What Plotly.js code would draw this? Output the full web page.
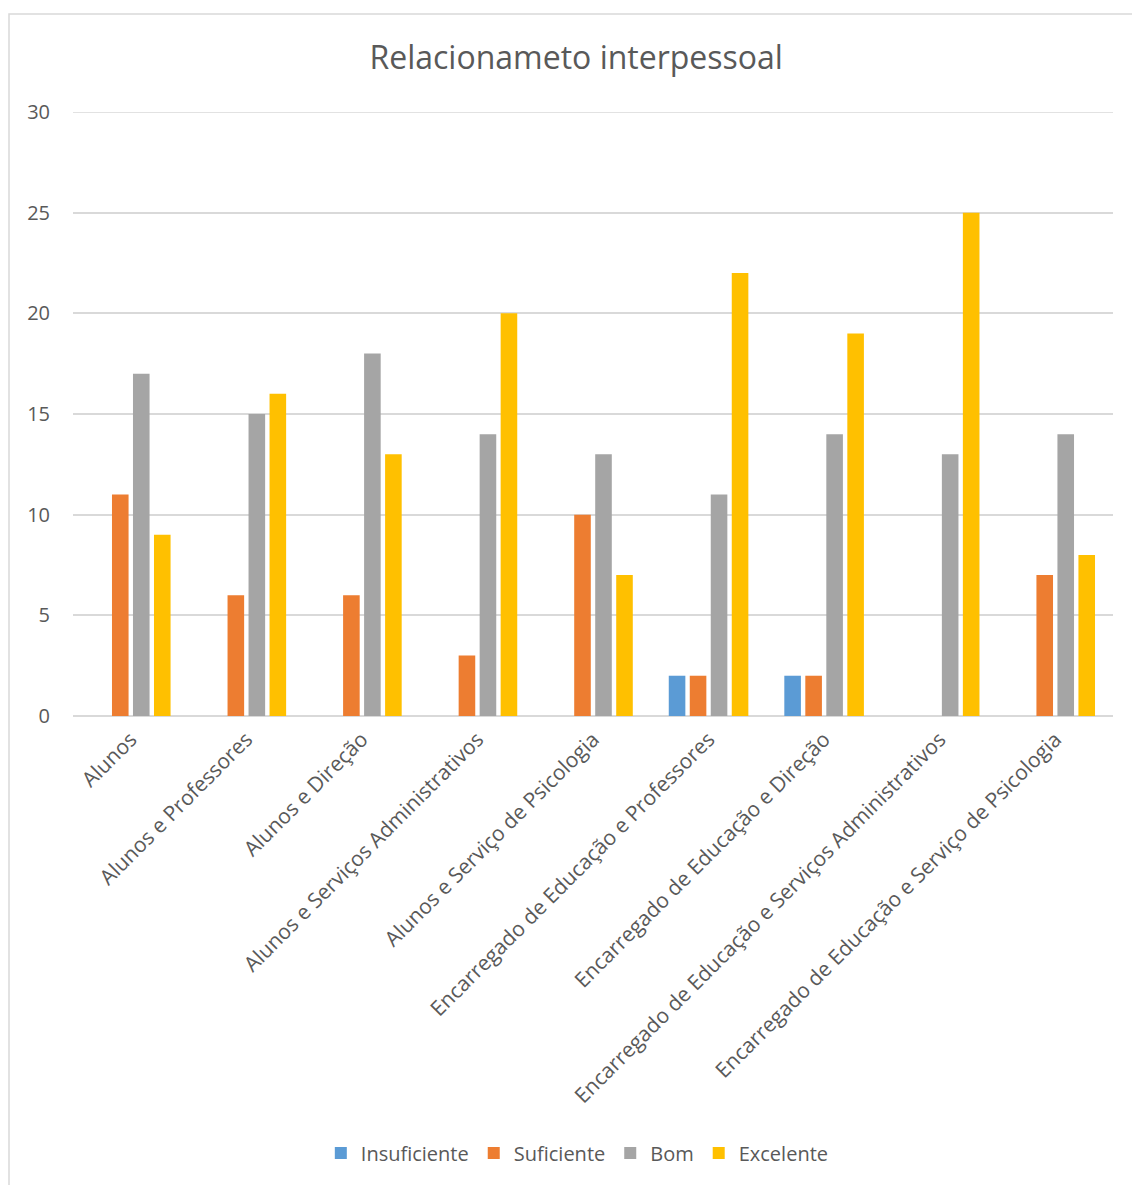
<!DOCTYPE html>
<html><head><meta charset="utf-8">
<script src="https://cdn.plot.ly/plotly-3.0.1.min.js"></script>
<style>body{margin:0;background:#fff}</style>
</head><body>
<div id="chart" style="width:1132px;height:1185px"></div>
<script>
const categories = ["Alunos","Alunos e Professores","Alunos e Direção","Alunos e Serviços Administrativos","Alunos e Serviço de Psicologia","Encarregado de Educação e Professores","Encarregado de Educação e Direção","Encarregado de Educação e Serviços Administrativos","Encarregado de Educação e Serviço de Psicologia"];
const insuficiente = [0,0,0,0,0,2,2,0,0];
const suficiente = [11,6,6,3,10,2,2,0,7];
const bom = [17,15,18,14,13,11,14,13,14];
const excelente = [9,16,13,20,7,22,19,25,8];
const seriesNames = ["Insuficiente","Suficiente","Bom","Excelente"];
const colors = ["#5B9BD5","#ED7D31","#A5A5A5","#FFC000"];
const yTicks = [0,5,10,15,20,25,30];

const font = "Open Sans, Noto Sans, sans-serif";
const data = [insuficiente, suficiente, bom, excelente].map((v,i)=>({
  type:'bar', x:categories, y:v, name:seriesNames[i],
  marker:{color:colors[i], line:{width:0}}
}));
const layout = {
  width:1132, height:1185,
  margin:{l:73, r:19, t:112, b:469},
  paper_bgcolor:'#fff', plot_bgcolor:'#fff',
  title:{text:"Relacionameto interpessoal", font:{family:font, size:32, color:'#595959'}, x:0.509, xanchor:'center', y:1-58/1185, yanchor:'middle', yref:'container'},
  bargap:0.273, bargroupgap:0.21, barmode:'group',
  xaxis:{tickangle:-45, tickfont:{family:font, size:21, color:'#595959'}, showline:false, ticks:'', showgrid:false, zeroline:false, ticklabelstandoff:6},
  yaxis:{range:[0,30], tickvals:yTicks, tickfont:{family:font, size:20, color:'#595959'}, gridcolor:'#D9D9D9', gridwidth:1.5, zeroline:true, zerolinecolor:'#D9D9D9', zerolinewidth:2, ticks:'', ticklabelstandoff:22, showline:false},
  legend:{orientation:'h', x:0.51, xanchor:'center', xref:'container', y:1-1153/1185, yref:'container', yanchor:'middle', font:{family:font, size:20, color:'#595959'}, traceorder:'normal', itemwidth:30},
  shapes:[
    {type:'rect', xref:'paper', yref:'paper', x0:(9-73)/1040, x1:(1140-73)/1040, y0:(716-1195)/604, y1:(716-14)/604, line:{color:'#D9D9D9', width:1.5}, fillcolor:'rgba(0,0,0,0)', layer:'below'},
    {type:'line', xref:'paper', yref:'y', x0:0, x1:1, y0:yTicks[yTicks.length-1], y1:yTicks[yTicks.length-1], line:{color:'#D9D9D9', width:1.5}, layer:'below'}
  ]
};
Plotly.newPlot('chart', data, layout, {displayModeBar:false});
</script>
</body></html>
